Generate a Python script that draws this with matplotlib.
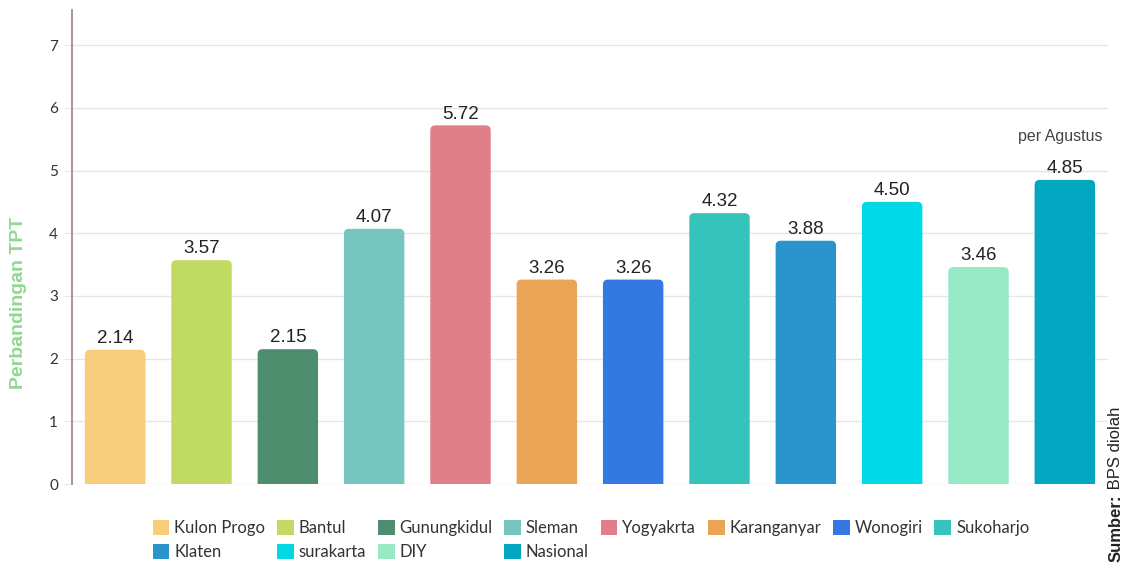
import matplotlib
matplotlib.use("Agg")
import matplotlib.pyplot as plt
from matplotlib.patches import FancyBboxPatch

categories = ["Kulon Progo", "Bantul", "Gunungkidul", "Sleman", "Yogyakrta", "Karanganyar",
              "Wonogiri", "Sukoharjo", "Klaten", "surakarta", "DIY", "Nasional"]
values = [2.14, 3.57, 2.15, 4.07, 5.72, 3.26, 3.26, 4.32, 3.88, 4.50, 3.46, 4.85]
colors = ["#F7CD7B", "#C1DA62", "#4E8E6E", "#77C5BF", "#E07F89", "#EAA455",
          "#3479E2", "#35C3BB", "#2A95CB", "#02D9E6", "#98EAC6", "#02A6C1"]
yticks = [0, 1, 2, 3, 4, 5, 6, 7]

W, H = 1126, 565
fig = plt.figure(figsize=(W / 100, H / 100), dpi=100)
ax = fig.add_axes([72 / W, (565 - 484) / H, (1108 - 72) / W, (484 - 10) / H])
ymax = 474 / 62.7
ax.set_xlim(-0.5, len(categories) - 0.5)
ax.set_ylim(0, ymax)

x = list(range(len(categories)))
bars = ax.bar(x, values, width=0.7, color=colors, zorder=3)

# rounded top corners
xpp = (len(categories)) / (1108 - 72)
ypp = ymax / 474
r = 5 * xpp
aspect = ypp / xpp
for b in bars:
    bx, by = b.get_x(), b.get_y()
    bw, bh = b.get_width(), b.get_height()
    b.set_visible(False)
    fp = FancyBboxPatch((bx, by - 8 * ypp), bw, bh + 8 * ypp,
                        boxstyle=f"round,pad=0,rounding_size={r}",
                        mutation_aspect=aspect, facecolor=b.get_facecolor(),
                        edgecolor="none", zorder=3, clip_on=True)
    ax.add_patch(fp)

for xi, v in zip(x, values):
    ax.annotate(f"{v:.2f}", (xi, v), xytext=(0, 2), textcoords="offset points",
                ha="center", va="bottom", fontsize=13.5, color="#222222",
                family="Liberation Sans", zorder=4)

ax.annotate("per Agustus", (x[-1], values[-1]), xytext=(-3, 31), textcoords="offset points",
            ha="center", va="center", fontsize=11.5, color="#444444",
            family="Liberation Sans", zorder=4)

ax.set_yticks(yticks)
ax.set_yticklabels([str(t) for t in yticks], family="Lato", fontsize=11, color="#333333")
ax.tick_params(axis="y", length=6, color="#e6e6e6", pad=4)
ax.tick_params(axis="x", bottom=False, labelbottom=False)
ax.grid(axis="y", color="#e6e6e6", linewidth=1, zorder=0)
for s in ["top", "right", "bottom"]:
    ax.spines[s].set_visible(False)
ax.spines["left"].set_color("#9C7F8E")
ax.spines["left"].set_linewidth(1.2)

# legend: 8 columns, row-wise ordering in reference
order = [0, 8, 1, 9, 2, 10, 3, 11, 4, 5, 6, 7]
handles = [FancyBboxPatch((0, 0), 1, 1, boxstyle="round,pad=0,rounding_size=0.15",
                          facecolor=colors[i], edgecolor="none") for i in order]
labels = [categories[i] for i in order]
leg = fig.legend(handles, labels, ncol=8, loc="center", bbox_to_anchor=(591 / W, (565 - 540) / H),
                 frameon=False, prop={"family": "Lato", "size": 12},
                 handlelength=1.0, handleheight=1.0, handletextpad=0.3,
                 columnspacing=0.7, labelspacing=0.45, borderpad=0)
for t in leg.get_texts():
    t.set_color("#333333")

fig.text(19 / W, (565 - 303) / H, "Perbandingan TPT", rotation=90, ha="center", va="center",
         fontsize=14, fontweight="bold", color="#90D890", family="Liberation Sans")

t1 = fig.text(1116 / W, 3 / H, "Sumber:", rotation=90, ha="center", va="bottom",
              fontsize=12, fontweight="bold", color="#222222", family="Liberation Sans")
fig.add_artist(plt.Annotation(" BPS diolah", xy=(0.5, 1.0), xycoords=t1,
                              ha="center", va="bottom", rotation=90,
                              fontsize=12, color="#222222", family="Liberation Sans"))

fig.savefig("out.png", dpi=100)
